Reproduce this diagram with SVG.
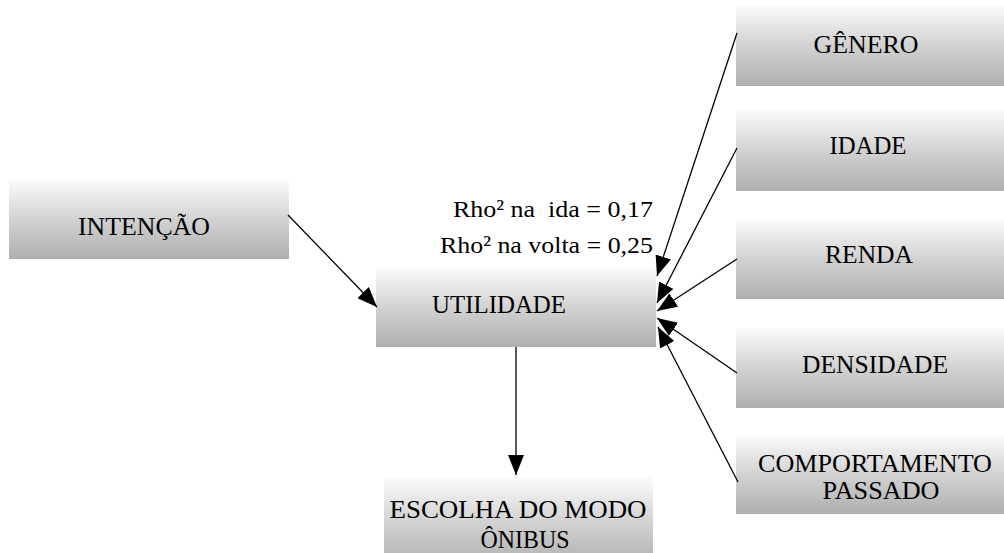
<svg xmlns="http://www.w3.org/2000/svg" width="1004" height="553" viewBox="0 0 1004 553">
<defs>
<linearGradient id="g" x1="0" y1="0" x2="0" y2="1">
<stop offset="0" stop-color="#fbfbfb"/>
<stop offset="0.5" stop-color="#d2d2d2"/>
<stop offset="1" stop-color="#afafaf"/>
</linearGradient>
<marker id="ah" markerUnits="userSpaceOnUse" markerWidth="22" markerHeight="16" refX="20" refY="8" orient="auto">
<path d="M0,0 L20,8 L0,16 Z" fill="#000"/>
</marker>
</defs>
<style>
.box{fill:url(#g);}
text{font-family:'Liberation Serif','DejaVu Serif',serif;fill:#000;}
.t{font-size:25px;text-anchor:middle;}
.r{font-size:24px;text-anchor:end;white-space:pre;}
.c{stroke:#000;stroke-width:1.3;fill:none;marker-end:url(#ah);}
</style>
<rect width="1004" height="553" fill="#fff"/>
<g id="intencao"><rect class="box" x="9" y="180" width="280" height="79"/><text class="t" x="144" y="235" textLength="132" lengthAdjust="spacingAndGlyphs">INTENÇÃO</text></g>
<g id="utilidade"><rect class="box" x="376" y="268" width="280" height="79"/><text class="t" x="499" y="313" textLength="134" lengthAdjust="spacingAndGlyphs">UTILIDADE</text></g>
<g id="rho"><text class="r" x="653" y="217" xml:space="preserve" textLength="200" lengthAdjust="spacingAndGlyphs">Rho² na  ida = 0,17</text><text class="r" x="653" y="253" textLength="213" lengthAdjust="spacingAndGlyphs">Rho² na volta = 0,25</text></g>
<g id="escolha"><rect class="box" x="384" y="477" width="269" height="90"/><text class="t" x="518" y="518" textLength="257" lengthAdjust="spacingAndGlyphs">ESCOLHA DO MODO</text><text class="t" x="525" y="548" textLength="89" lengthAdjust="spacingAndGlyphs">ÔNIBUS</text></g>
<g id="genero"><rect class="box" x="736" y="5" width="280" height="81"/><text class="t" x="866" y="53" textLength="105" lengthAdjust="spacingAndGlyphs">GÊNERO</text></g>
<g id="idade"><rect class="box" x="736" y="110" width="280" height="81"/><text class="t" x="868" y="154" textLength="77" lengthAdjust="spacingAndGlyphs">IDADE</text></g>
<g id="renda"><rect class="box" x="736" y="219" width="280" height="80"/><text class="t" x="869" y="263" textLength="88" lengthAdjust="spacingAndGlyphs">RENDA</text></g>
<g id="densidade"><rect class="box" x="736" y="328" width="280" height="80"/><text class="t" x="875" y="373" textLength="146" lengthAdjust="spacingAndGlyphs">DENSIDADE</text></g>
<g id="comportamento"><rect class="box" x="736" y="435" width="280" height="79"/><text class="t" x="875" y="472" textLength="234" lengthAdjust="spacingAndGlyphs">COMPORTAMENTO</text><text class="t" x="881" y="499" textLength="117" lengthAdjust="spacingAndGlyphs">PASSADO</text></g>
<g id="connectors">
<line class="c" x1="288" y1="215" x2="377" y2="307"/>
<line class="c" x1="516" y1="347" x2="516" y2="475"/>
<line class="c" x1="737" y1="33" x2="657" y2="276"/>
<line class="c" x1="737" y1="148" x2="657" y2="303"/>
<line class="c" x1="737" y1="259" x2="657" y2="311"/>
<line class="c" x1="737" y1="373" x2="657" y2="318"/>
<line class="c" x1="738" y1="482" x2="658" y2="327"/>
</g>
</svg>
